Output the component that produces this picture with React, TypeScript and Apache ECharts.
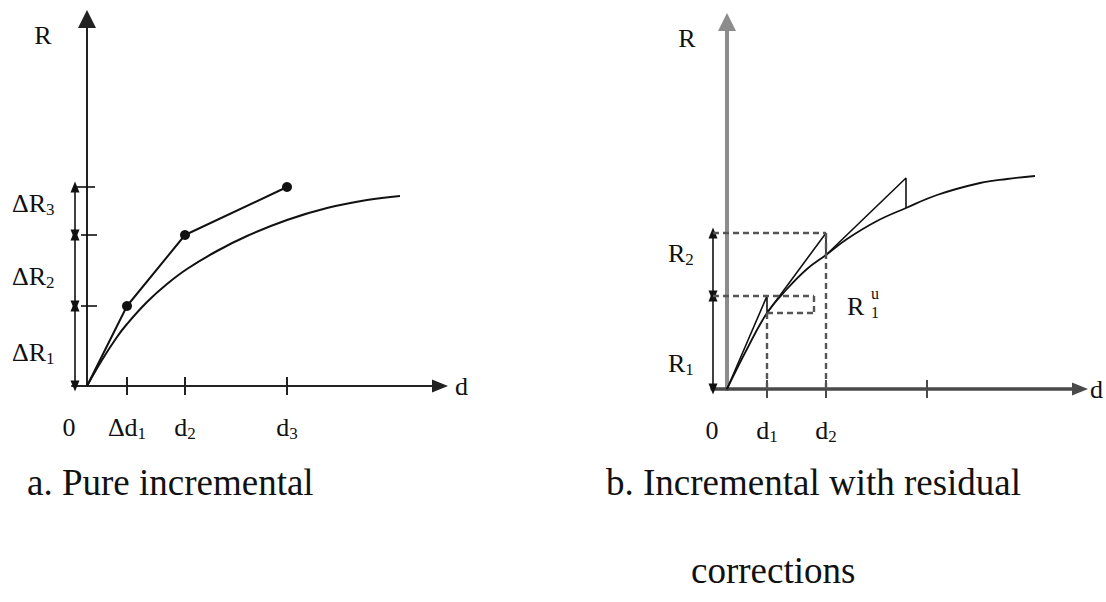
import { useEffect, useRef } from 'react';
import * as echarts from 'echarts';

const SERIF = '"Liberation Serif", "Times New Roman", serif';

// Panel a: pure incremental
const aCurveD = [0, 1.5, 3, 4, 6, 8, 10, 13, 16, 20, 24, 28, 31.3];
const aCurveR = [0, 2.6, 4.9, 6.2, 8.4, 10.2, 11.7, 13.5, 15.0, 16.6, 17.8, 18.6, 19.0];
const aStepD = [0, 4, 9.8, 20];
const aStepR = [0, 8, 15.1, 19.9];
const aTickValues = [0, 4, 9.8, 20];
const aTickLabels = ['{z|0}', '{m|Δd}{s|1}', '{m|d}{s|2}', '{m|d}{s|3}'];
const aDeltaNames = ['{m|ΔR}{s|1}', '{m|ΔR}{s|2}', '{m|ΔR}{s|3}'];

// Panel b: incremental with residual corrections
const bCurveD = [0, 2, 4, 6, 8, 9.9, 12, 15, 17.9, 21, 25.3, 28, 30.8];
const bCurveR = [0, 4.0, 7.6, 10.0, 12.0, 13.4, 15.0, 16.8, 18.1, 19.4, 20.6, 21.0, 21.3];
const bStepD = [0, 4, 4, 9.9, 9.9, 17.9, 17.9];
const bStepR = [0, 9.3, 7.6, 15.6, 13.4, 21.1, 18.1];
const bTickValues = [0, 4, 9.9, 20];
const bTickLabels = ['{z|0}', '{m|d}{s|1}', '{m|d}{s|2}', ''];
const bLevelNames = ['{m|R}{s|1}', '{m|R}{s|2}'];

const X_MIN = -1.5;
const X_MAX = 35.3;
const Y_MAX = 36.7;

const zip = (xs: number[], ys: number[]) => xs.map((x, i) => [x, ys[i]]);

const rich = (zeroShift: number) => ({
  m: { fontFamily: SERIF, fontSize: 26, lineHeight: 30, color: '#111' },
  s: { fontFamily: SERIF, fontSize: 17, lineHeight: 18, verticalAlign: 'bottom', color: '#111' },
  z: { fontFamily: SERIF, fontSize: 26, lineHeight: 30, color: '#111', padding: [0, zeroShift, 0, 0] },
});

// Each panel gets two overlapping x axes: the first draws the line, the outer
// half of the ticks and the positive labels; the second the inner half of the
// ticks and the origin label (kept apart so the two never compete for space).
function xAxes(grid: number, ticks: number[], labels: string[], color: string, width: number, nameGap: number, zeroShift: number) {
  const tickValues = ticks.filter((v) => v > 0);
  const labelOf = (v: number) => labels[ticks.indexOf(v)] ?? '';
  return [
    {
      type: 'value', gridIndex: grid, min: X_MIN, max: X_MAX, position: 'bottom',
      splitLine: { show: false },
      axisLine: { show: true, onZero: true, symbol: ['none', 'triangle'], symbolSize: [13, 16], lineStyle: { color, width } },
      axisTick: { show: true, inside: false, length: 9, customValues: tickValues, lineStyle: { color, width: 2 } },
      axisLabel: {
        show: true, customValues: tickValues, margin: 26, hideOverlap: false,
        showMinLabel: true, showMaxLabel: true,
        formatter: labelOf, rich: rich(zeroShift),
      },
      name: 'd', nameLocation: 'end', nameGap,
      nameTextStyle: { fontFamily: SERIF, fontSize: 26, color: '#111', verticalAlign: 'middle' },
    },
    {
      type: 'value', gridIndex: grid, min: X_MIN, max: X_MAX, position: 'bottom',
      splitLine: { show: false },
      axisLine: { show: false, onZero: true },
      axisTick: { show: true, inside: true, length: 9, customValues: tickValues, lineStyle: { color, width: 2 } },
      axisLabel: {
        show: true, customValues: [0], margin: 26, showMinLabel: true, showMaxLabel: true,
        formatter: labelOf, rich: rich(zeroShift),
      },
    },
  ];
}

function yAxis(grid: number, color: string, width: number) {
  return {
    type: 'value', gridIndex: grid, min: 0, max: Y_MAX,
    splitLine: { show: false }, axisTick: { show: false }, axisLabel: { show: false },
    axisLine: { show: true, onZero: true, symbol: ['none', 'triangle'], symbolSize: [18, 18], lineStyle: { color, width } },
  };
}

type Pt = [number, number];
const ARROW = [9, 11];
const seg = (a: Pt, b: Pt, style: any, startSym = 'none', endSym = 'none') => [
  { coord: a, symbol: startSym, symbolSize: ARROW, lineStyle: style },
  { coord: b, symbol: endSym, symbolSize: ARROW },
];

const dim = { color: '#111', width: 1.6, type: 'solid' };
const plain = { color: '#111', width: 1.6, type: 'solid' };
const dash = { color: '#555', width: 2.4, type: [6, 4] };

export default function App() {
  const ref = useRef<HTMLDivElement>(null);

  useEffect(() => {
    document.body.style.margin = '0';
    const chart = echarts.init(ref.current!, undefined, { renderer: 'svg' });

    const aDimX = -1.2;
    const bDimX = -1.4;
    const aLevels = aStepR.slice(1);

    const aMarks = [
      ...aLevels.map((r, i) => seg([aDimX, i === 0 ? 0 : aLevels[i - 1]], [aDimX, r], dim, 'triangle', 'triangle')),
      seg([-1.4, aLevels[2]], [0.8, aLevels[2]], plain),
      seg([-0.6, aLevels[1]], [1.0, aLevels[1]], plain),
      seg([-0.6, aLevels[0]], [1.0, aLevels[0]], plain),
    ];

    const bR1 = bStepR[1];
    const bR2 = bStepR[3];
    const bC1 = bStepR[2];
    const bMarks = [
      seg([bDimX, 0], [bDimX, bR1], dim, 'triangle', 'triangle'),
      seg([bDimX, bR1], [bDimX, bR2], dim, 'triangle', 'triangle'),
      seg([bDimX, bR2], [bStepD[3], bR2], dash),
      seg([bStepD[3], bR2], [bStepD[3], 0], dash),
      seg([bDimX, bR1], [8.7, bR1], dash),
      seg([8.7, bR1], [8.7, bC1], dash),
      seg([bStepD[1], bC1], [8.7, bC1], dash),
      seg([bStepD[1], bC1], [bStepD[1], 0], dash),
    ];

    const markLine = (data: any[]) => ({
      silent: true, animation: false, symbolSize: ARROW, precision: 3,
      label: { show: false }, emphasis: { disabled: true }, data,
    });

    const txt = (x: number, y: number, text: string, size = 26, align = 'left') => ({
      type: 'text', x, y, silent: true,
      style: {
        text, align, verticalAlign: 'middle', fill: '#111', fontFamily: SERIF, fontSize: size,
        rich: rich(0),
      },
    });

    chart.setOption({
      animation: false,
      backgroundColor: '#ffffff',
      grid: [
        { left: 72, top: 19, width: 368, height: 367 },
        { left: 712, top: 22, width: 368, height: 367 },
      ],
      xAxis: [
        ...xAxes(0, aTickValues, aTickLabels, '#222', 2, 15, 36),
        ...xAxes(1, bTickValues, bTickLabels, '#4a4a4a', 3.5, 10, 30),
      ],
      yAxis: [yAxis(0, '#222', 2), yAxis(1, '#8c8c8c', 4)],
      series: [
        {
          type: 'line', xAxisIndex: 0, yAxisIndex: 0, data: zip(aCurveD, aCurveR),
          smooth: 0.4, symbol: 'none', lineStyle: { color: '#111', width: 2 }, silent: true,
          markLine: markLine(aMarks),
        },
        {
          type: 'line', xAxisIndex: 0, yAxisIndex: 0,
          data: zip(aStepD, aStepR).map((p, i) => ({ value: p, symbolSize: i === 0 ? 0 : 10 })),
          symbol: 'circle', showSymbol: true, itemStyle: { color: '#111' },
          lineStyle: { color: '#111', width: 2 }, silent: true,
        },
        {
          type: 'line', xAxisIndex: 2, yAxisIndex: 1, data: zip(bCurveD, bCurveR),
          smooth: 0.4, symbol: 'none', lineStyle: { color: '#111', width: 1.8 }, silent: true,
          markLine: markLine(bMarks),
        },
        {
          type: 'line', xAxisIndex: 2, yAxisIndex: 1, data: zip(bStepD, bStepR),
          symbol: 'none', lineStyle: { color: '#111', width: 1.6 }, silent: true,
        },
      ],
      graphic: [
        txt(43, 35, 'R', 26, 'center'),
        txt(12, 352, aDeltaNames[0]),
        txt(12, 276, aDeltaNames[1]),
        txt(12, 203, aDeltaNames[2]),
        txt(687, 38, 'R', 26, 'center'),
        txt(668, 363, bLevelNames[0]),
        txt(668, 253, bLevelNames[1]),
        txt(847, 306, 'R'),
        { type: 'text', x: 871, y: 303, silent: true,
          style: { text: 'u\n1', align: 'left', verticalAlign: 'middle', fill: '#111', fontFamily: SERIF, fontSize: 16, lineHeight: 19 } },
        txt(27, 482, 'a. Pure incremental', 37),
        txt(606, 482, 'b. Incremental with residual', 37),
        txt(691, 570, 'corrections', 37),
      ],
    });

    return () => chart.dispose();
  }, []);

  return <div ref={ref} style={{ width: 1106, height: 602 }} />;
}
